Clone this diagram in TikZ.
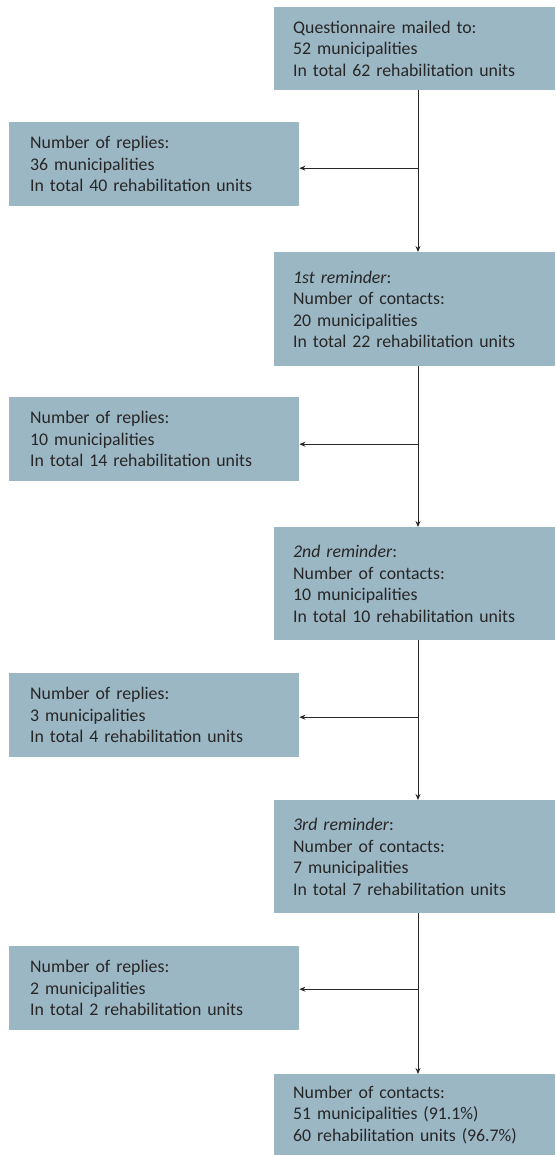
\documentclass[tikz,border=0pt]{standalone}
\usepackage{fontspec}
\setmainfont{Carlito}
\usetikzlibrary{arrows.meta}
\definecolor{boxblue}{RGB}{156,183,196}
\definecolor{linecol}{RGB}{40,40,40}
\begin{document}
\begin{tikzpicture}[x=1pt,y=1pt,
  rbox/.style={fill=boxblue, anchor=north west, minimum height=#1, text width=243pt,
    inner xsep=19pt, inner ysep=0pt, align=left, text=black!85,
    font=\fontsize{17.8}{21.5}\selectfont},
  lbox/.style={fill=boxblue, anchor=north west, minimum height=84pt, text width=248pt,
    inner xsep=21pt, inner ysep=0pt, align=left, text=black!85,
    font=\fontsize{17.8}{21.5}\selectfont},
  arr/.style={draw=linecol, line width=0.9pt, -{Stealth[length=6pt,width=5pt]}}
]
\path[use as bounding box] (0,0) rectangle (555,-1155);
\coordinate (v) at (418,0);

\node[rbox=83pt] (b1) at (274,-7) {Questionnaire mailed to:\\52 municipalities\\In total 62 rehabilitation units};
\node[lbox] (l1) at (9,-122) {Number of replies:\\36 municipalities\\In total 40 rehabilitation units};
\node[rbox=114pt] (b2) at (274,-252) {\textit{1st reminder}:\\Number of contacts:\\20 municipalities\\In total 22 rehabilitation units};
\node[lbox] (l2) at (9,-397) {Number of replies:\\10 municipalities\\In total 14 rehabilitation units};
\node[rbox=113pt] (b3) at (274,-527) {\textit{2nd reminder}:\\Number of contacts:\\10 municipalities\\In total 10 rehabilitation units};
\node[lbox] (l3) at (9,-673) {Number of replies:\\3 municipalities\\In total 4 rehabilitation units};
\node[rbox=113pt] (b4) at (274,-800) {\textit{3rd reminder}:\\Number of contacts:\\7 municipalities\\In total 7 rehabilitation units};
\node[lbox] (l4) at (9,-946) {Number of replies:\\2 municipalities\\In total 2 rehabilitation units};
\node[rbox=81pt] (b5) at (274,-1074) {Number of contacts:\\51 municipalities (91.1\%)\\60 rehabilitation units (96.7\%)};

\draw[arr] (b1.south -| v) -- (b2.north -| v);
\draw[arr] (b2.south -| v) -- (b3.north -| v);
\draw[arr] (b3.south -| v) -- (b4.north -| v);
\draw[arr] (b4.south -| v) -- (b5.north -| v);

\draw[arr] ([yshift=-4pt]l1.east -| v) -- ([yshift=-4pt]l1.east);
\draw[arr] ([yshift=-5pt]l2.east -| v) -- ([yshift=-5pt]l2.east);
\draw[arr] ([yshift=-2pt]l3.east -| v) -- ([yshift=-2pt]l3.east);
\draw[arr] ([yshift=-1pt]l4.east -| v) -- ([yshift=-1pt]l4.east);
\end{tikzpicture}
\end{document}
